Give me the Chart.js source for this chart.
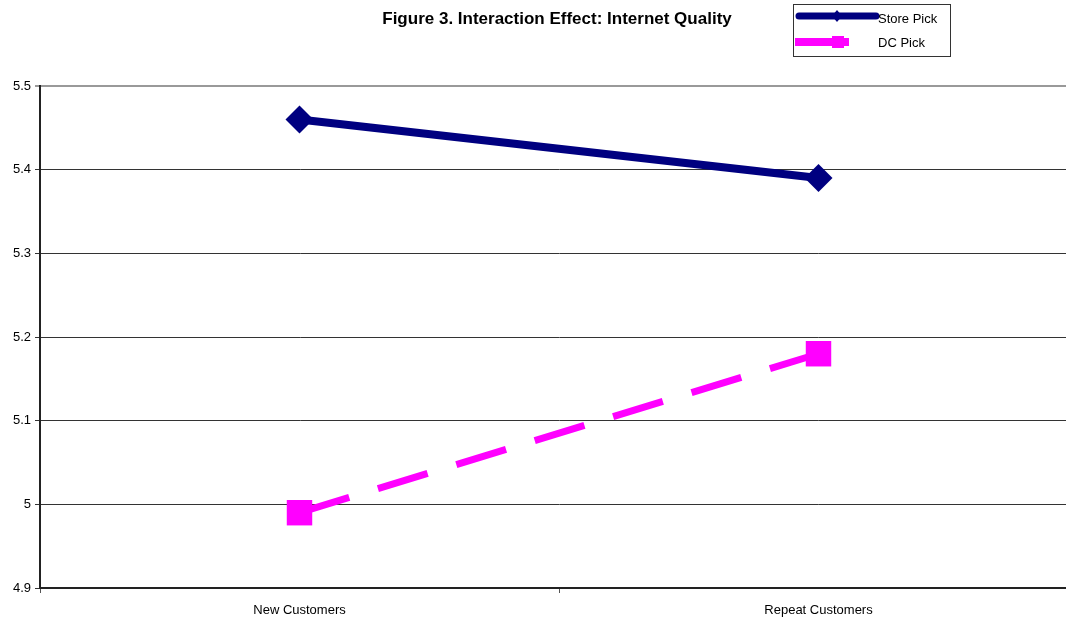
<!DOCTYPE html>
<html>
<head>
<meta charset="utf-8">
<script src="https://cdn.jsdelivr.net/npm/chart.js@4"></script>
<style>
  html, body { margin: 0; padding: 0; background: #fff; overflow: hidden; }
  #wrap { width: 1096px; height: 621px; }
</style>
</head>
<body>
<div id="wrap"><canvas id="chart" width="1096" height="621"></canvas></div>
<script>
const categories = ["New Customers", "Repeat Customers"];
const storePick = [5.46, 5.39];
const dcPick = [4.99, 5.18];
const seriesNames = ["Store Pick", "DC Pick"];
const chartTitle = "Figure 3. Interaction Effect: Internet Quality";

// title + legend box drawn by hand to match the Excel look
const decorations = {
    id: "decorations",
    afterDraw(chart) {
        const ctx = chart.ctx;
        ctx.save();
        ctx.fillStyle = "#000";
        ctx.font = "bold 17px 'Liberation Sans', Arial, sans-serif";
        ctx.textAlign = "center";
        ctx.textBaseline = "middle";
        ctx.fillText(chartTitle, 557, 19);

        // legend frame
        ctx.strokeStyle = "#333";
        ctx.lineWidth = 1;
        ctx.strokeRect(793.5, 4.5, 157, 52);

        // store pick sample
        ctx.strokeStyle = "#000080";
        ctx.lineWidth = 7;
        ctx.lineCap = "round";
        ctx.beginPath();
        ctx.moveTo(799, 16);
        ctx.lineTo(876, 16);
        ctx.stroke();
        ctx.fillStyle = "#000080";
        ctx.beginPath();
        ctx.moveTo(837, 10); ctx.lineTo(842, 16); ctx.lineTo(837, 22); ctx.lineTo(832, 16);
        ctx.closePath();
        ctx.fill();

        // dc pick sample
        ctx.strokeStyle = "#ff00ff";
        ctx.lineCap = "butt";
        ctx.lineWidth = 8;
        ctx.beginPath();
        ctx.moveTo(795, 42);
        ctx.lineTo(849, 42);
        ctx.stroke();
        ctx.fillStyle = "#ff00ff";
        ctx.fillRect(832, 36, 12, 12);

        ctx.fillStyle = "#000";
        ctx.font = "13px 'Liberation Sans', Arial, sans-serif";
        ctx.textAlign = "left";
        ctx.fillText(seriesNames[0], 878, 19);
        ctx.fillText(seriesNames[1], 878, 43);
        ctx.restore();
    }
};

new Chart(document.getElementById("chart").getContext("2d"), {
    type: "line",
    data: {
        labels: categories,
        datasets: [{
            label: seriesNames[0],
            data: storePick,
            borderColor: "#000080",
            backgroundColor: "#000080",
            borderWidth: 8,
            pointStyle: "rectRot",
            pointRadius: 14,
            pointHoverRadius: 14,
            pointBorderWidth: 0
        }, {
            label: seriesNames[1],
            data: dcPick,
            borderColor: "#ff00ff",
            backgroundColor: "#ff00ff",
            borderWidth: 7,
            borderDash: [52, 30],
            borderCapStyle: "butt",
            pointStyle: "rect",
            pointRadius: 18,
            pointHoverRadius: 18,
            pointBorderWidth: 0
        }]
    },
    options: {
        responsive: false,
        animation: false,
        layout: {padding: {top: 86, right: 14, left: 0, bottom: 0}},
        plugins: {
            legend: {display: false},
            title: {display: false},
            tooltip: {enabled: false}
        },
        scales: {
            x: {
                offset: true,
                grid: {
                    offset: true,
                    drawOnChartArea: false,
                    tickLength: 5,
                    color: "#555"
                },
                border: {color: "#222", width: 2},
                ticks: {
                    color: "#000",
                    padding: 10,
                    font: {family: "'Liberation Sans', Arial, sans-serif", size: 13}
                },
                afterFit(scale) { scale.height = 33; }
            },
            y: {
                min: 4.9,
                max: 5.5,
                ticks: {
                    stepSize: 0.1,
                    color: "#000",
                    padding: 4,
                    font: {family: "'Liberation Sans', Arial, sans-serif", size: 13},
                    callback: v => Math.round(v * 10) / 10
                },
                grid: {
                    tickLength: 5,
                    color: ctx => ctx.index === 6 ? "#999" : "#333",
                    lineWidth: ctx => ctx.index === 6 ? 2 : 1
                },
                border: {color: "#222", width: 2},
                afterFit(scale) { scale.width = 40; }
            }
        }
    },
    plugins: [decorations]
});
</script>
</body>
</html>
